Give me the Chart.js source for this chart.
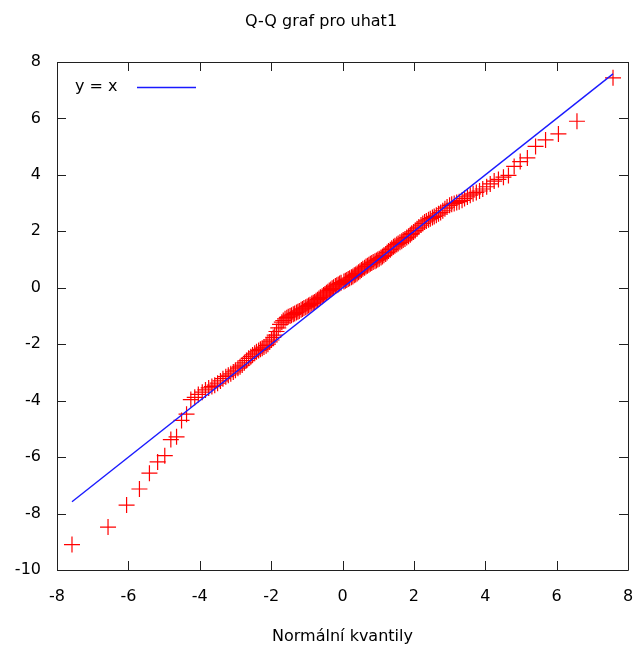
<!DOCTYPE html>
<html>
<head>
<meta charset="utf-8">
<script src="https://cdn.jsdelivr.net/npm/chart.js@4.4.1/dist/chart.umd.min.js"></script>
<style>
  html, body { margin: 0; padding: 0; background: #fff; }
  canvas { display: block; }
</style>
</head>
<body>
<canvas id="qq" width="638" height="648"></canvas>
<script>
// normal quantiles (x) and sorted residuals (y)
const normQuant = [
  -7.58, -6.57, -6.05, -5.69, -5.41, -5.18, -4.98, -4.81, -4.65, -4.51, -4.37, -4.25,
  -4.14, -4.04, -3.93, -3.84, -3.75, -3.66, -3.58, -3.50, -3.42, -3.35, -3.27, -3.20,
  -3.13, -3.06, -3.00, -2.93, -2.87, -2.81, -2.75, -2.69, -2.63, -2.57, -2.52, -2.46,
  -2.41, -2.35, -2.30, -2.25, -2.20, -2.14, -2.09, -2.04, -1.99, -1.94, -1.90, -1.85,
  -1.80, -1.75, -1.70, -1.66, -1.61, -1.56, -1.52, -1.47, -1.43, -1.38, -1.34, -1.29,
  -1.25, -1.21, -1.16, -1.12, -1.08, -1.03, -0.99, -0.95, -0.91, -0.86, -0.82, -0.78,
  -0.74, -0.70, -0.66, -0.62, -0.57, -0.53, -0.49, -0.45, -0.41, -0.37, -0.33, -0.29,
  -0.25, -0.20, -0.16, -0.12, -0.08, -0.04,
  0.04, 0.08, 0.12, 0.16, 0.20, 0.25, 0.29, 0.33, 0.37, 0.41, 0.45, 0.49,
  0.53, 0.57, 0.62, 0.66, 0.70, 0.74, 0.78, 0.82, 0.86, 0.91, 0.95, 0.99,
  1.03, 1.08, 1.12, 1.16, 1.21, 1.25, 1.29, 1.34, 1.38, 1.43, 1.47, 1.52,
  1.56, 1.61, 1.66, 1.70, 1.75, 1.80, 1.85, 1.90, 1.94, 1.99, 2.04, 2.09,
  2.14, 2.20, 2.25, 2.30, 2.35, 2.41, 2.46, 2.52, 2.57, 2.63, 2.69, 2.75,
  2.81, 2.87, 2.93, 3.00, 3.06, 3.13, 3.20, 3.27, 3.35, 3.42, 3.50, 3.58,
  3.66, 3.75, 3.84, 3.93, 4.04, 4.14, 4.25, 4.37, 4.51, 4.65, 4.81, 4.98,
  5.18, 5.41, 5.69, 6.05, 6.57, 7.58
];
const uhat1 = [
  -9.10, -8.48, -7.70, -7.13, -6.57, -6.17, -5.95, -5.38, -5.28, -4.70, -4.48, -3.96,
  -3.88, -3.78, -3.70, -3.62, -3.55, -3.50, -3.45, -3.38, -3.30, -3.22, -3.15, -3.10,
  -3.05, -2.98, -2.92, -2.85, -2.80, -2.74, -2.66, -2.58, -2.50, -2.44, -2.38, -2.32,
  -2.27, -2.22, -2.18, -2.14, -2.10, -2.05, -2.00, -1.92, -1.85, -1.76, -1.68, -1.55,
  -1.42, -1.30, -1.22, -1.16, -1.10, -1.06, -1.03, -1.00, -0.97, -0.94, -0.91, -0.88,
  -0.85, -0.82, -0.78, -0.75, -0.72, -0.69, -0.66, -0.63, -0.60, -0.56, -0.53, -0.50,
  -0.46, -0.42, -0.38, -0.34, -0.30, -0.26, -0.22, -0.18, -0.14, -0.10, -0.06, -0.02,
  0.02, 0.06, 0.09, 0.12, 0.15, 0.18,
  0.22, 0.25, 0.28, 0.31, 0.34, 0.37, 0.40, 0.44, 0.47, 0.51, 0.55, 0.59,
  0.63, 0.67, 0.71, 0.75, 0.78, 0.82, 0.85, 0.88, 0.91, 0.94, 0.97, 1.00,
  1.03, 1.07, 1.11, 1.15, 1.20, 1.25, 1.30, 1.35, 1.40, 1.45, 1.49, 1.53,
  1.57, 1.61, 1.65, 1.69, 1.73, 1.78, 1.83, 1.88, 1.93, 1.98, 2.03, 2.09,
  2.15, 2.22, 2.28, 2.33, 2.37, 2.41, 2.45, 2.49, 2.53, 2.57, 2.62, 2.67,
  2.73, 2.80, 2.86, 2.92, 2.96, 2.99, 3.02, 3.05, 3.10, 3.16, 3.22, 3.28,
  3.33, 3.38, 3.43, 3.50, 3.58, 3.68, 3.78, 3.84, 3.92, 3.98, 4.30, 4.47,
  4.60, 5.01, 5.24, 5.45, 5.90, 7.44
];
const refLineX = [-7.58, 7.58];
const xTicks = [-8, -6, -4, -2, 0, 2, 4, 6, 8];
const yTicks = [-10, -8, -6, -4, -2, 0, 2, 4, 6, 8];

const FONT = "'DejaVu Sans', Tahoma, sans-serif";

const points = normQuant.map((q, i) => ({ x: q, y: uhat1[i] }));
const refLine = refLineX.map(v => ({ x: v, y: v }));

// gnuplot look: box border, inward ticks on all four sides, title and key
const gnuplotFrame = {
  id: 'gnuplotFrame',
  beforeDatasetsDraw(chart) {
    const { ctx, chartArea: a, scales } = chart;
    ctx.save();
    ctx.strokeStyle = '#202020';
    ctx.lineWidth = 1;
    ctx.beginPath();
    ctx.rect(Math.round(a.left) + 0.5, Math.round(a.top) + 0.5,
             Math.round(a.right - a.left), Math.round(a.bottom - a.top));
    xTicks.forEach(v => {
      const px = Math.round(scales.x.getPixelForValue(v)) + 0.5;
      ctx.moveTo(px, a.bottom); ctx.lineTo(px, a.bottom - 9);
      ctx.moveTo(px, a.top); ctx.lineTo(px, a.top + 9);
    });
    yTicks.forEach(v => {
      const py = Math.round(scales.y.getPixelForValue(v)) + 0.5;
      ctx.moveTo(a.left, py); ctx.lineTo(a.left + 9, py);
      ctx.moveTo(a.right, py); ctx.lineTo(a.right - 9, py);
    });
    ctx.stroke();
    ctx.restore();
  },
  afterDraw(chart) {
    const { ctx } = chart;
    ctx.save();
    ctx.fillStyle = '#000';
    ctx.font = '16px ' + FONT;
    ctx.textAlign = 'center';
    ctx.textBaseline = 'middle';
    ctx.fillText('Q-Q graf pro uhat1', 321, 22);
    // key
    ctx.textAlign = 'left';
    ctx.fillText('y = x', 75, 87);
    ctx.strokeStyle = '#1a1aff';
    ctx.lineWidth = 1.4;
    ctx.beginPath();
    ctx.moveTo(137, 87.5); ctx.lineTo(196, 87.5);
    ctx.stroke();
    ctx.restore();
  }
};

new Chart(document.getElementById('qq'), {
  type: 'scatter',
  data: {
    datasets: [
      {
        label: 'uhat1',
        data: points,
        pointStyle: 'cross',
        pointRadius: 8,
        pointBorderWidth: 1.2,
        pointBorderColor: '#ff0000',
        pointBackgroundColor: '#ff0000',
        order: 2
      },
      {
        label: 'y = x',
        type: 'line',
        data: refLine,
        borderColor: '#1a1aff',
        borderWidth: 1.4,
        pointRadius: 0,
        fill: false,
        order: 1
      }
    ]
  },
  options: {
    responsive: false,
    animation: false,
    devicePixelRatio: 1,
    layout: { padding: { top: 62, right: 10, left: 0, bottom: 0 } },
    plugins: {
      legend: { display: false },
      title: { display: false },
      tooltip: { enabled: false }
    },
    scales: {
      x: {
        type: 'linear',
        min: -8, max: 8,
        grid: { display: false, drawTicks: false },
        border: { display: false },
        ticks: { stepSize: 2, color: '#000', padding: 17, font: { family: FONT, size: 16 } },
        title: {
          display: true,
          text: 'Normální kvantily',
          color: '#000',
          font: { family: FONT, size: 16 },
          padding: { top: 0, bottom: 2 }
        },
        afterFit(scale) {
          scale.height = 78;
          scale.paddingLeft = 0;
          scale.paddingRight = 0;
        }
      },
      y: {
        type: 'linear',
        min: -10, max: 8,
        grid: { display: false, drawTicks: false },
        border: { display: false },
        ticks: { stepSize: 2, color: '#000', padding: 16, font: { family: FONT, size: 16 } },
        afterFit(scale) {
          scale.width = 57;
          scale.paddingTop = 0;
          scale.paddingBottom = 0;
        }
      }
    }
  },
  plugins: [gnuplotFrame]
});
</script>
</body>
</html>
